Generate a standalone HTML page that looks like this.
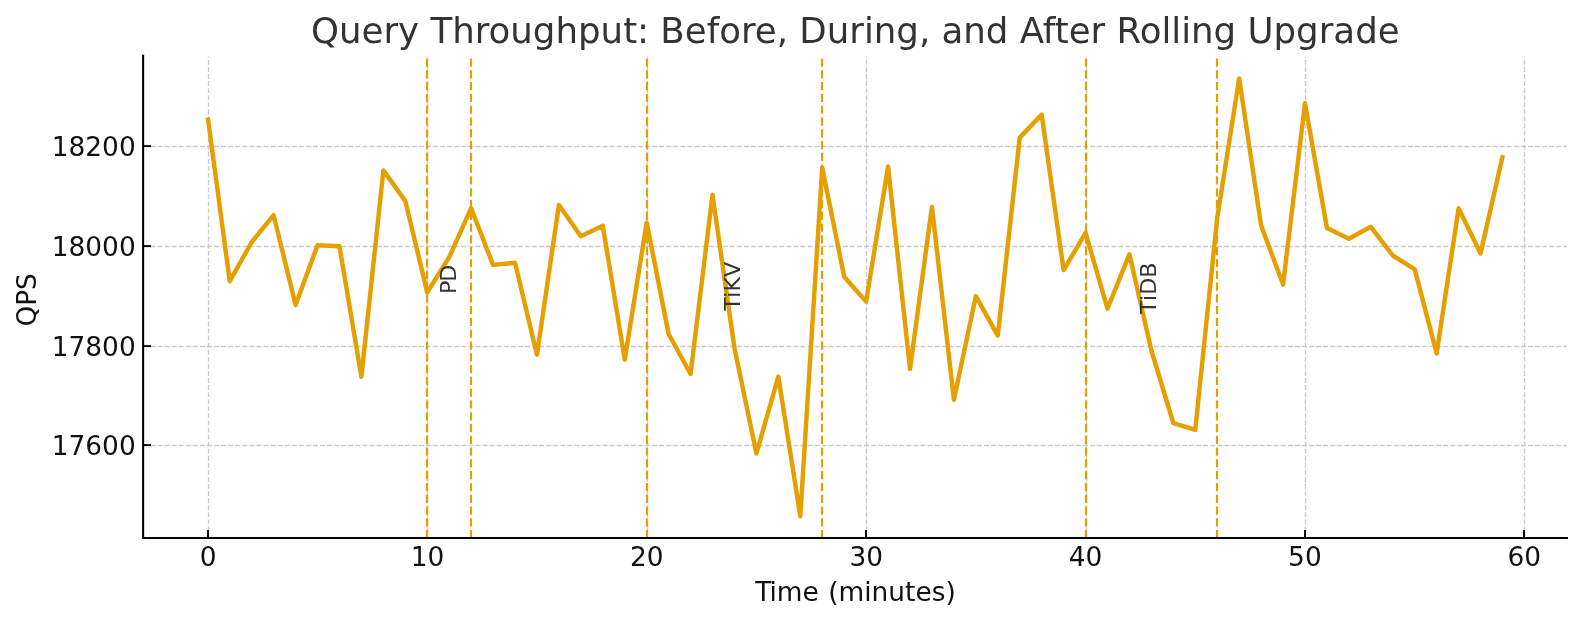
<!DOCTYPE html>
<html lang="en"><head><meta charset="utf-8"><title>Query Throughput: Before, During, and After Rolling Upgrade</title>
<style>
html,body{margin:0;padding:0;background:#fff;}
body{width:1583px;height:623px;overflow:hidden;}
svg{display:block;}
text{font-family:"DejaVu Sans","Liberation Sans",sans-serif;}
</style></head><body>
<svg width="1583" height="623" viewBox="0 0 1583 623" style="will-change:transform">

<g stroke="#c9c9c9" stroke-width="1.334" stroke-dasharray="4.936 2.134" fill="none">
<path d="M208.5 538.5 V56.5"/>
<path d="M427.5 538.5 V56.5"/>
<path d="M647.5 538.5 V56.5"/>
<path d="M866.5 538.5 V56.5"/>
<path d="M1086.5 538.5 V56.5"/>
<path d="M1305.5 538.5 V56.5"/>
<path d="M1524.5 538.5 V56.5"/>
<path d="M143.5 146.5 H1567.0" stroke-dasharray="4.932 2.132"/>
<path d="M143.5 246.5 H1567.0" stroke-dasharray="4.932 2.132"/>
<path d="M143.5 346.5 H1567.0" stroke-dasharray="4.932 2.132"/>
<path d="M143.5 445.5 H1567.0" stroke-dasharray="4.932 2.132"/>
</g>
<g stroke="#000000" stroke-width="1.9" fill="none">
<path d="M208 538.0 V530"/>
<path d="M427 538.0 V530"/>
<path d="M647 538.0 V530"/>
<path d="M866 538.0 V530"/>
<path d="M1086 538.0 V530"/>
<path d="M1305 538.0 V530"/>
<path d="M1524 538.0 V530"/>
<path d="M143.1 146.1 H151"/>
<path d="M143.1 246.1 H151"/>
<path d="M143.1 346.1 H151"/>
<path d="M143.1 445.1 H151"/>
</g>
<g stroke="#E69F00" stroke-width="2.2" stroke-dasharray="8.23 3.56" fill="none">
<path d="M427 538.3 V56"/>
<path d="M471 538.3 V56"/>
<path d="M647 538.3 V56"/>
<path d="M822 538.3 V56"/>
<path d="M1086 538.3 V56"/>
<path d="M1217 538.3 V56"/>
</g>
<polyline points="207.80,117.5 229.74,281.2 251.69,242.1 273.63,215.2 295.58,305.0 317.52,245.3 339.46,246.2 361.41,376.8 383.35,170.4 405.30,200.9 427.24,292.4 449.18,257.3 471.13,208.2 493.07,264.9 515.02,262.8 536.96,354.8 558.90,205.0 580.85,236.2 602.79,225.8 624.74,359.6 646.68,222.6 668.62,334.0 690.57,374.0 712.51,194.8 734.46,348.0 756.40,453.5 778.34,376.6 800.29,516.2 822.23,167.7 844.18,276.7 866.12,301.6 888.06,166.5 910.01,368.9 931.95,206.9 953.90,399.7 975.84,296.1 997.78,335.6 1019.73,137.6 1041.67,114.6 1063.62,270.1 1085.56,232.9 1107.50,308.7 1129.45,254.2 1151.39,350.5 1173.34,423.1 1195.28,429.8 1217.22,218.0 1239.17,78.5 1261.11,225.5 1283.06,284.6 1305.00,103.3 1326.94,228.0 1348.89,238.8 1370.83,226.8 1392.78,255.5 1414.72,269.4 1436.66,353.4 1458.61,208.3 1480.55,253.5 1502.90,155.0" fill="none" stroke="#E69F00" stroke-width="4.45" stroke-linejoin="round" stroke-linecap="butt"/>
<g stroke="#000000" stroke-width="2.1" fill="none" stroke-linecap="square">
<path d="M143.1 55.9 V538.0"/><path d="M143.1 538.0 H1566.9"/>
</g>
<g fill="#111111" font-size="26.4px">
<text x="208.10" y="565.8" text-anchor="middle">0</text>
<text x="427.46" y="565.8" text-anchor="middle">10</text>
<text x="646.82" y="565.8" text-anchor="middle">20</text>
<text x="866.18" y="565.8" text-anchor="middle">30</text>
<text x="1085.54" y="565.8" text-anchor="middle">40</text>
<text x="1304.90" y="565.8" text-anchor="middle">50</text>
<text x="1524.26" y="565.8" text-anchor="middle">60</text>
<text x="135.7" y="156.0" text-anchor="end">18200</text>
<text x="135.7" y="256.0" text-anchor="end">18000</text>
<text x="135.7" y="356.0" text-anchor="end">17800</text>
<text x="135.7" y="455.0" text-anchor="end">17600</text>
</g>
<text x="855.5" y="600.9" text-anchor="middle" font-size="26.4px" fill="#111111">T<tspan dx="-1.1">ime</tspan><tspan dx="1.1"> (minutes)</tspan></text>
<text transform="translate(36.4 299.9) rotate(-90)" text-anchor="middle" font-size="26.4px" fill="#111111">QPS</text>
<text x="855.3" y="43.0" text-anchor="middle" font-size="35.6px" fill="#333333">Query Throughput: Before, During, and After Rolling Upgrade</text>
<g fill="#333333" font-size="22.2px">
<text transform="translate(455.8 294.10) rotate(-90) scale(1 0.968)" x="0.000 12.400">PD</text>
<text transform="translate(740.1 310.70) rotate(-90) scale(1 0.968)" x="0.000 13.000 19.250 33.625">TiKV</text>
<text transform="translate(1156.1 313.90) rotate(-90) scale(1 0.968)" x="0.000 13.000 19.250 36.125">TiDB</text>
</g>
</svg>
</body></html>
